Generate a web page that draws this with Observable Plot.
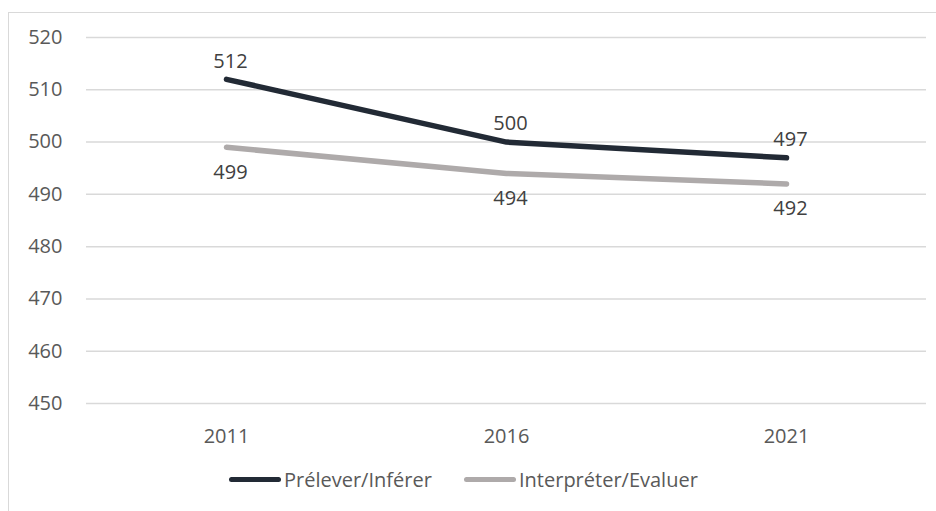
<!DOCTYPE html>
<html>
<head>
<meta charset="utf-8">
<script src="https://cdn.jsdelivr.net/npm/d3@7"></script>
<script src="https://cdn.jsdelivr.net/npm/@observablehq/plot@0.6"></script>
<style>
  html, body { margin: 0; padding: 0; background: #fff; }
  body { width: 936px; height: 511px; position: relative; overflow: hidden; font-family: "Open Sans", sans-serif; }
  #frame { position: absolute; left: 8px; top: 12px; width: 940px; height: 520px; border-left: 1.5px solid #d9d9d9; border-top: 1.5px solid #d9d9d9; box-sizing: border-box; }
  #chart { position: absolute; left: 0; top: 0; }
  #legend { position: absolute; top: 465px; left: 0; width: 936px; height: 28px; font-size: 20px; color: #595959; }
  .item { position: absolute; top: 0; display: flex; align-items: center; height: 28px; }
  .swatch { width: 52px; height: 5px; border-radius: 3px; margin-right: 3px; }
</style>
</head>
<body>
<div id="frame"></div>
<div id="chart"></div>
<div id="legend"></div>
<script>
const years = ["2011", "2016", "2021"];
const seriesNames = ["Prélever/Inférer", "Interpréter/Evaluer"];
const prelever = [512, 500, 497];
const interpreter = [499, 494, 492];
const yTicks = [450, 460, 470, 480, 490, 500, 510, 520];
const colors = ["#222a35", "#aeaaaa"];

const data = [];
years.forEach((y, i) => {
  data.push({year: y, value: prelever[i], series: seriesNames[0]});
  data.push({year: y, value: interpreter[i], series: seriesNames[1]});
});
const dark = data.filter(d => d.series === seriesNames[0]);
const gray = data.filter(d => d.series === seriesNames[1]);

const chart = Plot.plot({
  width: 936,
  height: 455,
  marginTop: 37,
  marginBottom: 52,
  marginLeft: 86,
  marginRight: 10,
  style: {fontFamily: "'Open Sans', sans-serif", fontSize: "20px", color: "#595959", background: "transparent"},
  x: {type: "point", domain: years, padding: 0.5, label: null},
  y: {domain: [450, 520], label: null},
  color: {domain: seriesNames, range: colors},
  marks: [
    Plot.ruleY(yTicks, {stroke: "#d9d9d9", strokeWidth: 1.5}),
    Plot.axisY({ticks: yTicks, tickSize: 0, tickPadding: 24, tickFormat: d => String(d), fill: "#595959", fontSize: 20}),
    Plot.axisX({tickSize: 0, tickPadding: 25, fill: "#595959", fontSize: 20}),
    Plot.line(data, {x: "year", y: "value", z: "series", stroke: "series", strokeWidth: 5.5, strokeLinecap: "round", strokeLinejoin: "round"}),
    Plot.text(dark, {x: "year", y: "value", text: d => String(d.value), dy: -18, dx: 4, fill: "#404040", fontSize: 20}),
    Plot.text(gray, {x: "year", y: "value", text: d => String(d.value), dy: 25, dx: 4, fill: "#404040", fontSize: 20})
  ]
});
document.getElementById("chart").appendChild(chart);

const legend = document.getElementById("legend");
const lefts = [229, 464];
seriesNames.forEach((name, i) => {
  const item = document.createElement("div");
  item.className = "item";
  item.style.left = lefts[i] + "px";
  const sw = document.createElement("div");
  sw.className = "swatch";
  sw.style.background = colors[i];
  const label = document.createElement("span");
  label.textContent = name;
  item.appendChild(sw);
  item.appendChild(label);
  legend.appendChild(item);
});
</script>
</body>
</html>
